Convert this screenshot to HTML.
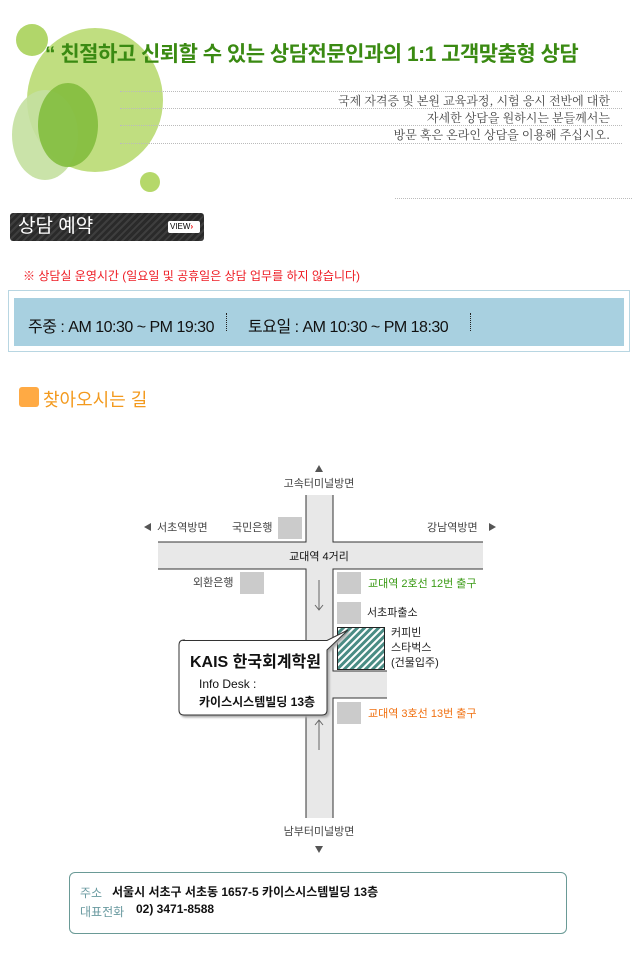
<!DOCTYPE html>
<html><head><meta charset="utf-8">
<style>
body{margin:0;width:642px;height:958px;background:#fff;position:relative;overflow:hidden;font-family:"Liberation Sans","Noto Sans CJK KR",sans-serif}
.a{position:absolute;white-space:nowrap}
.dl{position:absolute;left:120px;width:502px;border-top:1px dotted #bbb}
</style></head><body>
<svg class="a" style="left:0;top:0" width="200" height="210">
<circle cx="32" cy="40" r="16" fill="#a9d25a" opacity=".9"/>
<ellipse cx="95" cy="100" rx="68" ry="72" fill="#b5d86a" opacity=".85"/>
<ellipse cx="45" cy="135" rx="33" ry="45" fill="#c4e0a0" opacity=".9"/>
<ellipse cx="68" cy="125" rx="30" ry="42" fill="#7fbb3a" opacity=".85"/>
<circle cx="150" cy="182" r="10" fill="#b5d86a"/>
</svg>
<div class="a" style="left:45px;top:38px;font-size:21px;font-weight:bold;color:#3a8a12;letter-spacing:-0.5px">“ 친절하고 신뢰할 수 있는 상담전문인과의 1:1 고객맞춤형 상담</div>
<div class="dl" style="top:91px"></div><div class="dl" style="top:108px"></div><div class="dl" style="top:125px"></div><div class="dl" style="top:143px"></div>
<div class="dl" style="top:198px;left:395px;width:237px"></div>
<div class="a" style="right:32px;top:92px;font-size:12px;color:#444;text-align:right;line-height:17px;font-family:'Noto Serif CJK SC',serif">국제 자격증 및 본원 교육과정, 시험 응시 전반에 대한<br>자세한 상담을 원하시는 분들께서는<br>방문 혹은 온라인 상담을 이용해 주십시오.</div>
<div class="a" style="left:10px;top:213px;width:194px;height:28px;border-radius:3px;background:repeating-linear-gradient(135deg,#2a2a2a 0 3px,#3e3e3e 3px 5px)"></div>
<div class="a" style="left:18px;top:213px;font-size:19px;color:#fff;line-height:28px">상담 예약</div>
<div class="a" style="left:168px;top:221px;width:32px;height:12px;background:#fff;border-radius:2px;font-size:8px;line-height:12px;color:#000;padding-left:2px;box-sizing:border-box">VIEW<span style="color:#e00;font-weight:bold">›</span></div>
<div class="a" style="left:23px;top:267px;font-size:12px;color:#ee1c24">※ 상담실 운영시간 (일요일 및 공휴일은 상담 업무를 하지 않습니다)</div>
<div class="a" style="left:8px;top:290px;width:620px;height:60px;border:1px solid #b8d6e2"></div>
<div class="a" style="left:14px;top:298px;width:610px;height:48px;background:#a8d0e0"></div>
<div class="a" style="left:28px;top:313px;font-size:16px;color:#111;letter-spacing:-0.5px">주중 : AM 10:30 ~ PM 19:30</div>
<div class="a" style="left:226px;top:313px;height:18px;border-left:1px dotted #222"></div>
<div class="a" style="left:248px;top:313px;font-size:16px;color:#111;letter-spacing:-0.5px">토요일 : AM 10:30 ~ PM 18:30</div>
<div class="a" style="left:470px;top:313px;height:18px;border-left:1px dotted #222"></div>
<div class="a" style="left:19px;top:387px;width:20px;height:20px;background:#ffaa44;border-radius:3px"></div>
<div class="a" style="left:43px;top:386px;font-size:18px;color:#f39a1e">찾아오시는 길</div>
<svg class="a" style="left:0;top:450px" width="642" height="410" font-family="Liberation Sans,Noto Sans CJK KR,sans-serif" font-size="11">
<defs><pattern id="h" width="5" height="5" patternUnits="userSpaceOnUse" patternTransform="rotate(45)"><rect width="5" height="5" fill="#4a8c84"/><rect width="2" height="5" fill="#fff"/></pattern></defs>
<rect x="306" y="45" width="27" height="323" fill="#e8e8e8"/>
<rect x="158" y="92" width="325" height="27" fill="#e8e8e8"/>
<rect x="333" y="221" width="54" height="27" fill="#e8e8e8"/>
<g stroke="#333" stroke-width="1" fill="none">
<path d="M306 45V92H158M333 45V92H483M158 119H306V368M483 119H333V221H387M387 248H333V368"/>
</g>
<polygon points="319,15 315,22 323,22" fill="#555"/>
<polygon points="319,403 315,396 323,396" fill="#555"/>
<polygon points="144,77 151,73 151,81" fill="#555"/>
<polygon points="496,77 489,73 489,81" fill="#555"/>
<text x="319" y="37" text-anchor="middle" fill="#444">고속터미널방면</text>
<text x="319" y="385" text-anchor="middle" fill="#444">남부터미널방면</text>
<text x="157" y="81" fill="#444">서초역방면</text>
<text x="232" y="81" fill="#444">국민은행</text>
<text x="427" y="81" fill="#444">강남역방면</text>
<text x="319" y="110" text-anchor="middle" fill="#111">교대역 4거리</text>
<text x="193" y="136" fill="#444">외환은행</text>
<rect x="278" y="67" width="24" height="22" fill="#cbcbcb"/>
<rect x="240" y="122" width="24" height="22" fill="#cbcbcb"/>
<rect x="337" y="122" width="24" height="22" fill="#cbcbcb"/>
<rect x="337" y="152" width="24" height="22" fill="#cbcbcb"/>
<rect x="337" y="252" width="24" height="22" fill="#cbcbcb"/>
<rect x="337.5" y="177.5" width="47" height="42" fill="url(#h)" stroke="#222"/>
<text x="368" y="137" fill="#3a9a14">교대역 2호선 12번 출구</text>
<text x="367" y="166" fill="#222">서초파출소</text>
<text x="391" y="186" fill="#222">커피빈</text>
<text x="391" y="201" fill="#222">스타벅스</text>
<text x="391" y="216" fill="#222">(건물입주)</text>
<text x="368" y="267" fill="#f07010">교대역 3호선 13번 출구</text>
<g stroke="#666"><path d="M319 130V160M315 155L319 160L323 155M319 270V300M315 275L319 270L323 275" fill="none"/></g>
<path d="M183.5 190.5H327L348 180L327 200V260Q327 265 322 265H184Q179 265 179 260V195Q179 190 184 190Z" fill="#fff" stroke="#333" filter="drop-shadow(2px 2px 1px #aaa)"/>
<text x="190" y="217" font-size="16" font-weight="bold" fill="#111">KAIS 한국회계학원</text>
<text x="199" y="238" font-size="12" fill="#111">Info Desk :</text>
<text x="199" y="256" font-size="12" fill="#111" font-weight="bold">카이스시스템빌딩 13층</text>
</svg>
<div class="a" style="left:69px;top:872px;width:496px;height:60px;border:1px solid #6a9a96;border-radius:6px"></div>
<div class="a" style="left:80px;top:884px;font-size:12px;color:#6a9aa0">주소</div>
<div class="a" style="left:112px;top:883px;font-size:12px;color:#111;font-weight:bold">서울시 서초구 서초동 1657-5 카이스시스템빌딩 13층</div>
<div class="a" style="left:80px;top:903px;font-size:12px;color:#6a9aa0">대표전화</div>
<div class="a" style="left:136px;top:902px;font-size:12px;color:#111;font-weight:bold">02) 3471-8588</div>
</body></html>
